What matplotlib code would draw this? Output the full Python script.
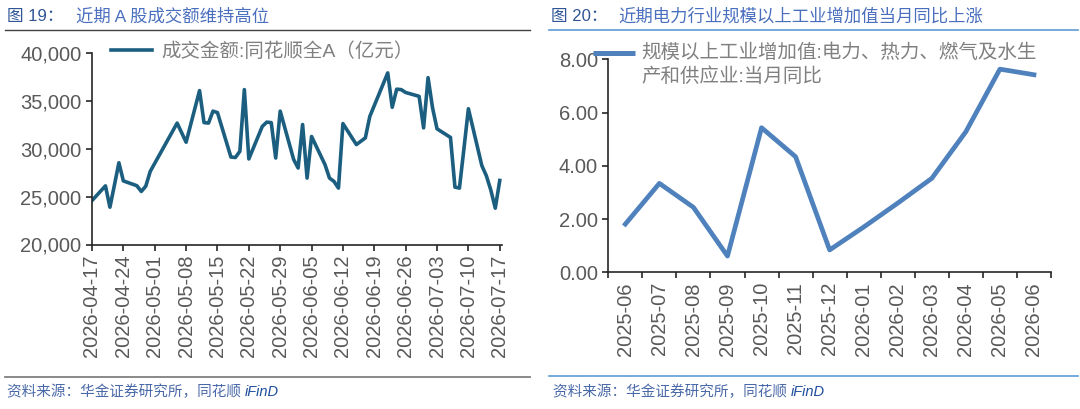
import matplotlib
matplotlib.use("Agg")
import matplotlib.pyplot as plt
import matplotlib.dates as mdates
from matplotlib.lines import Line2D
from matplotlib.ticker import FuncFormatter
import pandas as pd

# --- Data ---

# A-share turnover (亿元), one value per trading day
trade_start = "2026-04-17"
trade_end = "2026-07-17"
market_holidays = ["2026-05-01", "2026-05-04", "2026-05-05", "2026-06-19"]
turnover = [
    24600, 26130, 23900, 26200, 28550, 26650,
    26150, 25550, 26100, 27650,
    32700, 31700, 30700,
    36100, 32750, 32700, 33950, 33800,
    29150, 29100, 29750, 36200, 28950,
    32350, 32800, 32750, 29050, 33950,
    28900, 28000, 32550, 26950, 31300,
    28350, 26950, 26600, 25900, 32650,
    30450, 30800, 31150, 33400,
    37950, 34350, 36250, 36200, 35900,
    35500, 32200, 37450, 34300, 32100,
    31200, 26000, 25900, 30000, 34200,
    28250, 27200, 25700, 23800, 26700,
]
turnover_label = "成交金额:同花顺全A（亿元）"

# Power/heat/gas/water industrial value added, YoY (%)
months = [
    "2025-06", "2025-07", "2025-08", "2025-09", "2025-10", "2025-11", "2025-12",
    "2026-01", "2026-02", "2026-03", "2026-04", "2026-05", "2026-06",
]
power_yoy = [1.81, 3.34, 2.44, 0.61, 5.43, 4.34, 0.84, 1.70, 2.60, 3.53, 5.28, 7.63, 7.42]
power_label = "规模以上工业增加值:电力、热力、燃气及水生\n产和供应业:当月同比"

title_left = ("图 19：", "近期 A 股成交额维持高位")
title_right = ("图 20：", "近期电力行业规模以上工业增加值当月同比上涨")
source_text = "资料来源：华金证券研究所，同花顺 "


# --- Style ---

plt.rcParams["font.family"] = ["Liberation Sans", "Noto Sans CJK SC"]
TICK_GREY = "#595959"
LEGEND_GREY = "#808080"
TITLE_DARK = "#2f5597"
TITLE_BLUE = "#4a6fbf"
LEFT_LINE = "#1b5e80"
RIGHT_LINE = "#4f81bd"
W, H = 1080, 409


# pixel -> figure fraction helpers
def fx(px):
    return px / W


def fy(py):
    return 1 - py / H


def style_axes(ax):
    for side in ("top", "right"):
        ax.spines[side].set_visible(False)
    for side in ("left", "bottom"):
        ax.spines[side].set_linewidth(1.2)
        ax.spines[side].set_color("#262626")
    ax.tick_params(axis="both", which="major", direction="out", length=4,
                   width=1.2, color="#262626", labelcolor=TICK_GREY, labelsize=14.5)


fig = plt.figure(figsize=(W / 100, H / 100), dpi=100)

# --- Left: turnover ---

dates = pd.bdate_range(trade_start, trade_end)
dates = dates[~dates.isin(pd.to_datetime(market_holidays))]

ax1 = fig.add_axes([fx(92), fy(244.5), fx(502) - fx(92), fy(53.3) - fy(244.5)])
ax1.plot(dates, turnover, color=LEFT_LINE, linewidth=2.6, label=turnover_label)
ax1.set_ylim(20000, 40000)
ax1.set_yticks(range(20000, 40001, 5000))
ax1.yaxis.set_major_formatter(FuncFormatter(lambda v, _: f"{v:,.0f}"))
week_ticks = pd.date_range(trade_start, trade_end, freq="7D")
ax1.set_xlim(week_ticks[0], week_ticks[-1] + pd.Timedelta(hours=12))
ax1.set_xticks(week_ticks)
ax1.xaxis.set_major_formatter(mdates.DateFormatter("%Y-%m-%d"))
ax1.tick_params(axis="x", labelrotation=90, pad=3)
style_axes(ax1)
ax1.legend(loc="upper left", bbox_to_anchor=(fx(111), fy(42)), bbox_transform=fig.transFigure,
           frameon=False, fontsize=14, labelcolor=LEGEND_GREY, borderpad=0, borderaxespad=0,
           handlelength=2.1, handletextpad=0.5)

# --- Right: power YoY ---

ax2 = fig.add_axes([fx(608.3), fy(272.3), fx(1051) - fx(608.3), fy(59.3) - fy(272.3)])
xpos = list(range(len(months)))
ax2.plot(xpos, power_yoy, color=RIGHT_LINE, linewidth=3.4)
ax2.set_ylim(0, 8)
ax2.set_yticks([0, 2, 4, 6, 8])
ax2.yaxis.set_major_formatter(FuncFormatter(lambda v, _: f"{v:.2f}"))
# ticks sit on category boundaries, labels in the middle
ax2.set_xlim(-0.5, len(months) - 0.5)
ax2.set_xticks([i - 0.5 for i in range(len(months) + 1)])
ax2.set_xticklabels([])
ax2.set_xticks(xpos, minor=True)
ax2.set_xticklabels(months, minor=True, rotation=90)
style_axes(ax2)
ax2.tick_params(axis="x", which="minor", length=0, pad=7, labelsize=14.5, labelcolor=TICK_GREY)

# two-line legend drawn by hand so the key sits beside the first line
fig.add_artist(Line2D([fx(593), fx(635)], [fy(53), fy(53)], color=RIGHT_LINE, linewidth=3.6,
                      solid_capstyle="butt"))
fig.text(fx(641), fy(43), power_label, color=LEGEND_GREY, fontsize=14, ha="left", va="top",
         linespacing=1.4)

# --- Titles, rules and source notes ---

for x0, x_title, (prefix, body) in ((7, 76, title_left), (551, 618, title_right)):
    fig.text(fx(x0), fy(16), prefix, color=TITLE_DARK, fontsize=12, va="center", ha="left")
    fig.text(fx(x_title), fy(16), body, color=TITLE_BLUE, fontsize=12.5, va="center", ha="left")

fig.add_artist(Line2D([fx(5), fx(530)], [fy(30), fy(30)], color="#404040", linewidth=1.0))
fig.add_artist(Line2D([fx(5), fx(530)], [fy(377), fy(377)], color="#808080", linewidth=1.3))
fig.add_artist(Line2D([fx(549), fx(1078)], [fy(30), fy(30)], color="#5b9bd5", linewidth=1.2))
fig.add_artist(Line2D([fx(549), fx(1078)], [fy(376), fy(376)], color="#5b9bd5", linewidth=1.2))

for x0 in (7, 553):
    t = fig.text(fx(x0), fy(392), source_text, color="#4a69a8", fontsize=10.5,
                 style="italic", va="center", ha="left")
    fig.canvas.draw()
    bb = t.get_window_extent()
    fig.text(bb.x1 / W, fy(392), "iFinD", color="#1f4e9e", fontsize=10.5,
             style="italic", va="center", ha="left")

fig.savefig("out.png", dpi=100)
